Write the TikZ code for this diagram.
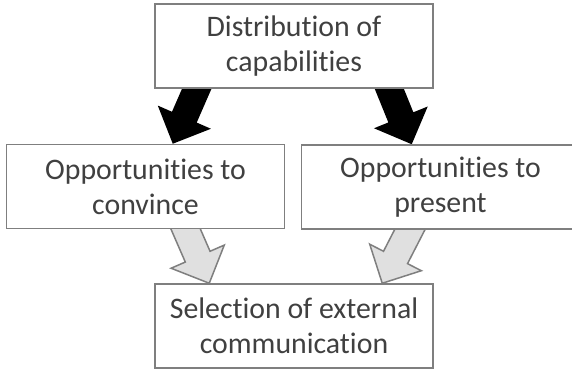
\documentclass[tikz,border=0pt]{standalone}
\usepackage{fontspec}
\setmainfont{Carlito}[Ligatures=NoCommon]
\usetikzlibrary{calc,backgrounds}
\definecolor{boxline}{HTML}{7F7F7F}
\definecolor{boxtext}{HTML}{404040}
\definecolor{lightarrow}{HTML}{E0E0E0}

\newcommand{\blockarrow}[3]{%
\coordinate (ba-s) at ($(#1)!-4pt!(#2)$);
\coordinate (ba-h) at ($(#2)!14.5pt!(#1)$);
\path[#3] ($(ba-s)!6.75pt!90:(#2)$) -- ($(ba-h)!6.75pt!90:(#2)$) -- ($(ba-h)!14.5pt!90:(#2)$) -- (#2)
  -- ($(ba-h)!14.5pt!-90:(#2)$) -- ($(ba-h)!6.75pt!-90:(#2)$) -- ($(ba-s)!6.75pt!-90:(#2)$) -- cycle;}

\begin{document}
\begin{tikzpicture}[x=0.5pt,y=-0.5pt]
\tikzset{box/.style={draw=boxline,line width=0.75pt,fill=white,text=boxtext,align=center,
  minimum width=139pt,minimum height=42pt,font=\fontsize{14.9}{17.5}\selectfont},
  darkarrow/.style={fill=black},
  greyarrow/.style={fill=lightarrow,draw=boxline,line width=0.75pt}}

\useasboundingbox (0,0) rectangle (572,369);

\node[box] (dist) at (294,46) {Distribution of\\capabilities};
\node[box] (conv) at (145.5,186.5) {Opportunities to\\convince};
\node[box] (pres) at (440.5,187) {Opportunities to\\present};
\node[box] (sel) at (294,326) {Selection of external\\communication};

\coordinate (d1) at ($(dist.south west)+(42.5,0)$);
\coordinate (d2) at ($(dist.south west)+(235,0)$);
\coordinate (c1) at ($(conv.north west)+(167,0)$);
\coordinate (c2) at ($(conv.south west)+(180,0)$);
\coordinate (p1) at ($(pres.north west)+(111,0)$);
\coordinate (p2) at ($(pres.south west)+(109,0)$);
\coordinate (s1) at ($(sel.north west)+(55,0)$);
\coordinate (s2) at ($(sel.north west)+(228,0)$);

\begin{pgfonlayer}{background}
\blockarrow{d1}{c1}{darkarrow}
\blockarrow{d2}{p1}{darkarrow}
\blockarrow{c2}{s1}{greyarrow}
\blockarrow{p2}{s2}{greyarrow}
\end{pgfonlayer}

\end{tikzpicture}
\end{document}
